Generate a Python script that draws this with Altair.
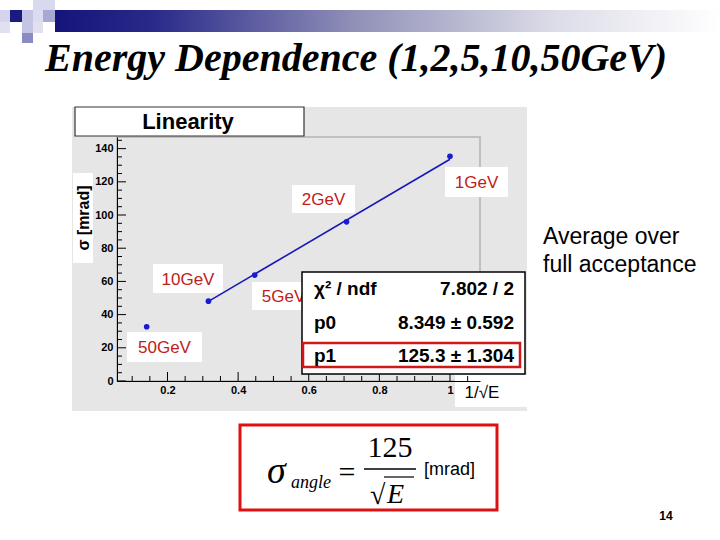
import altair as alt
import pandas as pd

# ---------------- data ----------------
energy_labels = ["1GeV", "2GeV", "5GeV", "10GeV", "50GeV"]
inv_sqrt_e = [1.0, 0.707, 0.447, 0.316, 0.141]
sigma_mrad = [135.4, 95.9, 63.8, 48.1, 32.7]

fit_x = [0.316, 1.0]
fit_y = [48.0, 133.6]

x_tick_values = [0.2, 0.4, 0.6, 0.8, 1.0]
y_tick_values = [0, 20, 40, 60, 80, 100, 120, 140]
x_minor_values = [0.1, 0.15, 0.25, 0.3, 0.35, 0.45, 0.5, 0.55, 0.65, 0.7, 0.75,
                  0.85, 0.9, 0.95, 1.05]
y_minor_values = [5, 10, 15, 25, 30, 35, 45, 50, 55, 65, 70, 75, 85, 90, 95,
                  105, 110, 115, 125, 130, 135, 145]

stats_names = ["χ² / ndf", "p0", "p1"]
stats_values = ["7.802 / 2", "8.349 ± 0.592", "125.3 ± 1.304"]

# ---------------- layout ----------------
OX, OY, W, H = 117, 137, 363, 244
SANS = "Liberation Sans"
SERIF = "Liberation Serif"
dummy = pd.DataFrame({"d": [0]})

xs = alt.Scale(domain=[0.057, 1.085], nice=False, zero=False)
ys = alt.Scale(domain=[0, 147], nice=False, zero=False)

ax_common = dict(domain=True, domainColor="black", domainWidth=1, ticks=False,
                 grid=False, labelFont=SANS, labelFontWeight="bold",
                 labelFontSize=11, labelColor="black", title=None, zindex=1)
XAX = alt.Axis(values=x_tick_values, format="~g", labelPadding=3, **ax_common)
YAX = alt.Axis(values=y_tick_values, format="d", labelPadding=4, **ax_common)


def R(x1, y1, x2, y2, fill="white", stroke=None, sw=1.0, fo=1.0):
    kw = dict(fill=fill, fillOpacity=fo)
    if stroke:
        kw.update(stroke=stroke, strokeWidth=sw)
    return alt.Chart(dummy).mark_rect(**kw).encode(
        x=alt.value(x1 - OX), x2=alt.value(x2 - OX),
        y=alt.value(y1 - OY), y2=alt.value(y2 - OY))


def T(x, y, s, size, color="black", weight="normal", style="normal", font=SANS,
      align="center", baseline="middle", angle=0):
    return alt.Chart(dummy).mark_text(
        text=s, fontSize=size, color=color, fontWeight=weight, fontStyle=style,
        font=font, align=align, baseline=baseline, angle=angle).encode(
        x=alt.value(x - OX), y=alt.value(y - OY))


def L(x1, y1, x2, y2, color="black", sw=1.0):
    return alt.Chart(dummy).mark_rule(color=color, strokeWidth=sw).encode(
        x=alt.value(x1 - OX), x2=alt.value(x2 - OX),
        y=alt.value(y1 - OY), y2=alt.value(y2 - OY))


layers = []

# slide decoration
layers.append(alt.Chart(dummy).mark_rect(
    color=alt.Gradient(gradient="linear",
                       stops=[alt.GradientStop(color="#14147a", offset=0),
                              alt.GradientStop(color="#2a2a8a", offset=0.15),
                              alt.GradientStop(color="#9090b8", offset=0.45),
                              alt.GradientStop(color="#dcdce8", offset=0.75),
                              alt.GradientStop(color="#ffffff", offset=1)],
                       x1=0, x2=1, y1=0, y2=0)).encode(
    x=alt.value(55 - OX), x2=alt.value(720 - OX),
    y=alt.value(10 - OY), y2=alt.value(32 - OY)))
squares = [(33, 0, 55, 10, "#d8d8ee"), (0, 10, 10, 22, "#d4d4ec"),
           (10, 10, 22, 22, "#1a1a80"), (22, 10, 33, 22, "#c4c4e4"),
           (33, 10, 43, 22, "#dcdcf0"), (43, 10, 55, 22, "#a8a8d4"),
           (0, 22, 10, 33, "#e0e0f0"), (22, 22, 33, 33, "#c4c4e4"),
           (33, 22, 43, 33, "#e0e0f0"), (22, 33, 33, 43, "#8a8ac4")]
for a, b, c, d, col in squares:
    layers.append(R(a, b, c, d, fill=col))

layers.append(T(45, 71, "Energy Dependence (1,2,5,10,50GeV)", 40, weight="bold",
                style="italic", font=SERIF, align="left", baseline="alphabetic"))

# ROOT pad
layers.append(R(72, 107, 527, 411, fill="#e6e6e6"))
layers.append(R(OX, OY, OX + W, OY + H, fill="#e6e6e6", stroke="#b4b4b4", sw=1.5))
layers.append(R(75, 107, 304, 136, fill="white", stroke="#333333", sw=1.2))
layers.append(T(188, 122, "Linearity", 22, weight="bold"))
layers.append(R(73, 173, 93, 263, fill="white"))
layers.append(T(84, 218, "σ [mrad]", 16, weight="bold", angle=270))
layers.append(R(455, 375, 527, 407, fill="white"))
layers.append(T(482, 393, "1/√E", 17))

# energy labels
label_boxes = [(445, 167, 508, 197), (292, 185, 355, 213), (252, 282, 315, 310),
               (153, 264, 223, 293), (127, 332, 202, 362)]
for name, (a, b, c, d) in zip(energy_labels, label_boxes):
    layers.append(R(a, b, c, d, fill="white"))
    layers.append(T((a + c) / 2, (b + d) / 2 + 1, name, 17, color="#c0201a"))

# axis ticks (inside, ROOT style)
ymaj = pd.DataFrame({"v": y_tick_values})
ymin = pd.DataFrame({"v": y_minor_values})
xmaj = pd.DataFrame({"v": x_tick_values})
xmin = pd.DataFrame({"v": x_minor_values})
layers.append(alt.Chart(ymaj).mark_rule(color="black").encode(
    y=alt.Y("v:Q", scale=ys, axis=YAX), x=alt.value(0), x2=alt.value(9)))
layers.append(alt.Chart(ymin).mark_rule(color="black").encode(
    y=alt.Y("v:Q", scale=ys, axis=YAX), x=alt.value(0), x2=alt.value(5)))
layers.append(alt.Chart(xmaj).mark_rule(color="black").encode(
    x=alt.X("v:Q", scale=xs, axis=XAX), y=alt.value(H), y2=alt.value(H - 9)))
layers.append(alt.Chart(xmin).mark_rule(color="black").encode(
    x=alt.X("v:Q", scale=xs, axis=XAX), y=alt.value(H), y2=alt.value(H - 5)))

# fit line and points
fit_df = pd.DataFrame({"x": fit_x, "y": fit_y})
layers.append(alt.Chart(fit_df).mark_line(color="#1818b8", strokeWidth=1.6).encode(
    x=alt.X("x:Q", scale=xs, axis=XAX), y=alt.Y("y:Q", scale=ys, axis=YAX)))

pts = pd.DataFrame({"x": inv_sqrt_e, "y": sigma_mrad, "E": energy_labels})
layers.append(alt.Chart(pts).mark_circle(size=32, color="#1a1ad0", opacity=1).encode(
    x=alt.X("x:Q", scale=xs, axis=XAX),
    y=alt.Y("y:Q", scale=ys, axis=YAX)))

# stats box
layers.append(R(302, 272, 525, 374, fill="white", stroke="black", sw=1.5))
layers.append(R(303, 343, 520, 367, fill="white", fo=0, stroke="#d01818", sw=2.5))
stat_rows_y = [289, 323, 356]
for nm, val, yy in zip(stats_names, stats_values, stat_rows_y):
    layers.append(T(314, yy, nm, 19, weight="bold", align="left"))
    layers.append(T(514, yy, val, 19, weight="bold", align="right"))

# side note
layers.append(T(543, 237, "Average over", 23, align="left"))
layers.append(T(543, 265, "full acceptance", 23, align="left"))

# formula box
layers.append(R(240, 425, 497, 510, fill="white", fo=0, stroke="#dd1111", sw=3))
layers.append(T(267, 483, "σ", 38, font=SERIF, style="italic", align="left",
                baseline="alphabetic"))
layers.append(T(291, 488, "angle", 18, font=SERIF, style="italic", align="left",
                baseline="alphabetic"))
layers.append(T(347, 482, "=", 30, font=SERIF, baseline="alphabetic"))
layers.append(T(390, 457, "125", 30, font=SERIF, baseline="alphabetic"))
layers.append(L(364, 469, 416, 469, sw=1.3))
layers.append(T(370, 504, "√", 28, font=SERIF, align="left", baseline="alphabetic"))
layers.append(L(384, 477, 414, 477, sw=1.2))
layers.append(T(387, 503, "E", 28, font=SERIF, style="italic", align="left",
                baseline="alphabetic"))
layers.append(T(424, 470, "[mrad]", 18, align="left"))

# page number
layers.append(T(666, 516, "14", 12, weight="bold"))

chart = alt.layer(*layers).properties(
    width=W, height=H,
    padding={"left": OX, "top": OY, "right": 720 - OX - W, "bottom": 540 - OY - H},
    autosize="none", background="white",
).configure_view(stroke=None, fill=None)

chart.save("out.html", embed_options={"renderer": "svg", "actions": False})
